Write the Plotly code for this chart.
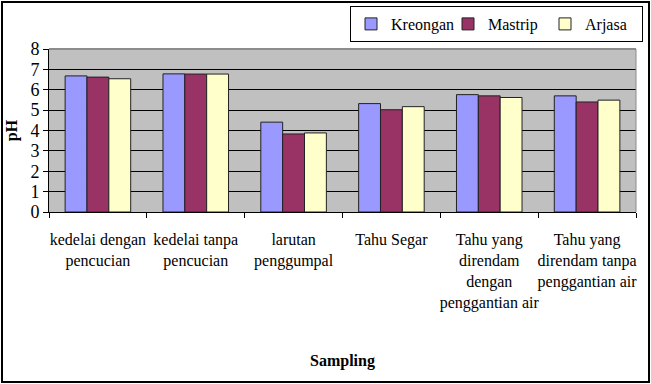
import plotly.graph_objects as go

categories = [
    "kedelai dengan<br>pencucian",
    "kedelai tanpa<br>pencucian",
    "larutan<br>penggumpal",
    "Tahu Segar",
    "Tahu yang<br>direndam<br>dengan<br>penggantian air",
    "Tahu yang<br>direndam tanpa<br>penggantian air",
]
kreongan = [6.68, 6.78, 4.41, 5.32, 5.76, 5.70]
mastrip = [6.62, 6.77, 3.83, 5.02, 5.70, 5.40]
arjasa = [6.54, 6.77, 3.88, 5.17, 5.62, 5.49]
y_ticks = [0, 1, 2, 3, 4, 5, 6, 7, 8]

series = [
    ("Kreongan", kreongan, "#9999FF"),
    ("Mastrip", mastrip, "#993366"),
    ("Arjasa", arjasa, "#FFFFCC"),
]

W, H = 651, 384
L, R, T, B = 49, 15, 49, 172
pw, ph = W - L - R, H - T - B
FONT = "Liberation Serif"

fig = go.Figure()
for name, vals, col in series:
    fig.add_trace(go.Bar(
        x=categories, y=vals, name=name,
        marker=dict(color=col, line=dict(color="#222222", width=1)),
    ))

fig.update_layout(
    width=W, height=H,
    margin=dict(l=L, r=R, t=T, b=B, pad=0, autoexpand=False),
    paper_bgcolor="white",
    plot_bgcolor="#C0C0C0",
    barmode="group", bargap=0.33, bargroupgap=0,
    font=dict(family=FONT, color="black", size=16),
    legend=dict(
        orientation="h",
        x=(643 - L) / pw, xanchor="right",
        y=(H - B - 6) / ph, yanchor="top",
        bgcolor="white", bordercolor="black", borderwidth=1,
        font=dict(family=FONT, size=16),
        entrywidth=52,
        itemwidth=30,
        traceorder="normal",
    ),
    xaxis=dict(
        automargin=False,
        showline=True, linecolor="black", linewidth=1,
        ticks="outside", tickson="boundaries", ticklen=5, tickcolor="black",
        tickangle=0,
        ticklabelstandoff=13,
        tickfont=dict(family=FONT, size=16),
        title=dict(text="<b>Sampling</b>", font=dict(family=FONT, size=16), standoff=44),
        showgrid=False,
    ),
    yaxis=dict(
        automargin=False,
        range=[0, 8], tickvals=y_ticks,
        showline=True, linecolor="black", linewidth=1,
        ticks="outside", ticklen=5, tickcolor="black",
        tickfont=dict(family=FONT, size=18),
        showgrid=True, gridcolor="black", gridwidth=1,
        zeroline=False,
        title=dict(text="<b>pH</b>", font=dict(family=FONT, size=16), standoff=8),
    ),
    shapes=[
        dict(type="line", xref="paper", yref="paper", x0=0, x1=1, y0=1, y1=1,
             line=dict(color="#8C8C8C", width=2), layer="above"),
        dict(type="line", xref="paper", yref="paper", x0=1, x1=1, y0=0, y1=1,
             line=dict(color="#8C8C8C", width=1), layer="above"),
        dict(type="rect", xref="paper", yref="paper",
             x0=-(L - 2) / pw, x1=1 + (R - 2) / pw,
             y0=-(B - 2) / ph, y1=1 + (T - 2) / ph,
             line=dict(color="black", width=2), fillcolor="rgba(0,0,0,0)"),
    ],
)

fig.write_html("out.html")
